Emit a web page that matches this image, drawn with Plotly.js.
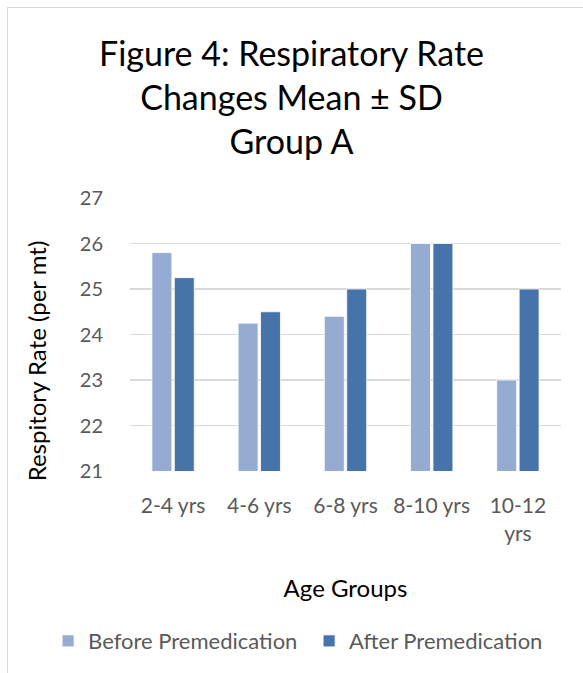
<!DOCTYPE html>
<html>
<head>
<meta charset="utf-8">
<script src="https://cdn.plot.ly/plotly-3.0.1.min.js"></script>
<style>
  html, body { margin: 0; padding: 0; background: #ffffff; }
  #frame { position: absolute; left: 7px; top: 7px; width: 600px; height: 700px;
           border: 1px solid #d9d9d9; box-sizing: border-box; }
  #chart { position: absolute; left: 0; top: 0; width: 583px; height: 673px; }
</style>
</head>
<body>
<div id="frame"></div>
<div id="chart"></div>
<script>
// Age groups on the x axis
const ageGroups = ['2-4 yrs', '4-6 yrs', '6-8 yrs', '8-10 yrs', '10-12<br>yrs'];

// Mean respiratory rate (per minute) before and after premedication
const beforePremedication = [25.8, 24.25, 24.4, 26, 23];
const afterPremedication  = [25.25, 24.5, 25, 26, 25];

// Axis ticks
const yTicks = [21, 22, 23, 24, 25, 26, 27];

const fontFamily = 'Lato, "Open Sans", sans-serif';
const grey = '#595959';

const traces = [
  {
    type: 'bar',
    name: 'Before Premedication',
    x: ageGroups,
    y: beforePremedication,
    marker: { color: '#95abd2', line: { color: '#ffffff', width: 0.8 } },
    hoverinfo: 'x+y'
  },
  {
    type: 'bar',
    name: 'After Premedication',
    x: ageGroups,
    y: afterPremedication,
    marker: { color: '#4674aa', line: { color: '#ffffff', width: 0.8 } },
    hoverinfo: 'x+y'
  }
];

const layout = {
  width: 583,
  height: 673,
  paper_bgcolor: 'rgba(0,0,0,0)',
  plot_bgcolor: 'rgba(0,0,0,0)',
  margin: { l: 130, r: 22, t: 198, b: 202, autoexpand: false },
  font: { family: fontFamily, color: grey, size: 20 },
  title: {
    text: 'Figure 4: Respiratory Rate<br>Changes Mean ± SD<br>Group A',
    font: { family: fontFamily, size: 34, color: '#000000' },
    x: 0.5, xanchor: 'center',
    yref: 'container',
    y: 0.902, yanchor: 'middle'
  },
  barmode: 'group',
  bargap: 0.48,
  bargroupgap: 0.11,
  showlegend: true,
  legend: {
    orientation: 'h',
    x: -0.19, xanchor: 'left',
    y: -0.623, yanchor: 'middle',
    font: { family: fontFamily, size: 22, color: grey },
    itemwidth: 30,
    entrywidth: 216,
    entrywidthmode: 'pixels',
    tracegroupgap: 0
  },
  xaxis: {
    type: 'category',
    tickfont: { family: fontFamily, size: 21, color: grey },
    ticks: 'outside', ticklen: 16, tickcolor: 'rgba(0,0,0,0)',
    showline: false,
    showgrid: false,
    title: {
      text: 'Age Groups',
      font: { family: fontFamily, size: 24, color: '#000000' },
      standoff: 36
    },
    fixedrange: true
  },
  yaxis: {
    range: [21, 27],
    tickvals: yTicks,
    tickfont: { family: fontFamily, size: 20, color: grey },
    ticks: 'outside', ticklen: 22, tickcolor: 'rgba(0,0,0,0)',
    showgrid: true,
    gridcolor: '#d9d9d9',
    gridwidth: 1.3,
    zeroline: false,
    showline: false,
    fixedrange: true
  },
  annotations: [
    {
      text: 'Respitory Rate (per mt)',
      textangle: -90,
      xref: 'paper', yref: 'paper',
      x: -0.216, y: 0.405,
      xanchor: 'center', yanchor: 'middle',
      showarrow: false,
      font: { family: fontFamily, size: 24, color: '#000000' }
    }
  ]
};

Plotly.newPlot('chart', traces, layout, { displayModeBar: false, staticPlot: true });
</script>
</body>
</html>
